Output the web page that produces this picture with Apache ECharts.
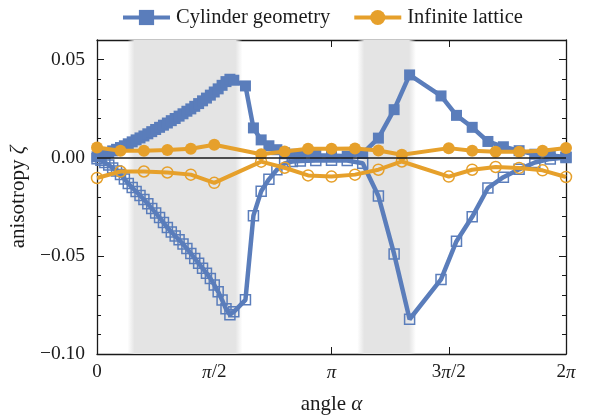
<!DOCTYPE html>
<html>
<head>
<meta charset="utf-8">
<script src="https://cdn.jsdelivr.net/npm/echarts@6/dist/echarts.min.js"></script>
<style>
html, body { margin: 0; padding: 0; background: #fff; }
#chart { width: 592px; height: 420px; }
</style>
</head>
<body>
<div id="chart"></div>
<script>
// angles in units of pi
var cylAngle = [0, 0.0167, 0.0333, 0.05, 0.0667, 0.0833, 0.1, 0.1167, 0.1333, 0.15,
    0.1667, 0.1833, 0.2, 0.2167, 0.2333, 0.25, 0.2667, 0.2833, 0.3, 0.3167,
    0.3333, 0.35, 0.3667, 0.3833, 0.4, 0.4167, 0.4333, 0.45, 0.4667, 0.4833,
    0.5, 0.5167, 0.5333, 0.55, 0.5667, 0.5833,
    0.633, 0.667, 0.7, 0.733, 0.767, 0.8, 0.833, 0.867, 0.933, 1.0,
    1.067, 1.133, 1.2, 1.267, 1.333, 1.467, 1.533, 1.6, 1.667, 1.733,
    1.8, 1.867, 1.933, 2.0];
var cylUpper = [0.0005, 0.0012, 0.0020, 0.0027, 0.0035, 0.0043, 0.0052, 0.0061, 0.0071, 0.0081,
    0.0091, 0.0101, 0.0111, 0.0122, 0.0133, 0.0144, 0.0155, 0.0166, 0.0177, 0.0189,
    0.0200, 0.0212, 0.0224, 0.0237, 0.0249, 0.0262, 0.0276, 0.0290, 0.0304, 0.0319,
    0.0335, 0.0351, 0.0369, 0.0388, 0.0400, 0.0395,
    0.0366, 0.0152, 0.0091, 0.0061, 0.0041, 0.0025, 0.0018, 0.0014, 0.0012, 0.0012,
    0.0008, 0.0022, 0.0100, 0.0245, 0.0422, 0.0315, 0.0216, 0.0155, 0.0083, 0.0056,
    0.0036, 0.0018, 0.0012, 0.0004];
var cylLower = [-0.0005, -0.0013, -0.0024, -0.0037, -0.0052, -0.0068, -0.0085, -0.0108, -0.0131, -0.0152,
    -0.0172, -0.0192, -0.0213, -0.0235, -0.0258, -0.0281, -0.0305, -0.0330, -0.0356, -0.0378,
    -0.0399, -0.0418, -0.0440, -0.0463, -0.0488, -0.0513, -0.0538, -0.0563, -0.0588, -0.0615,
    -0.0648, -0.0683, -0.0725, -0.0770, -0.0800, -0.0785,
    -0.0724, -0.0295, -0.0171, -0.0110, -0.0061, -0.0029, -0.0019, -0.0016, -0.0014, -0.0013,
    -0.0014, -0.0028, -0.0195, -0.0490, -0.0823, -0.0620, -0.0425, -0.0301, -0.0154, -0.0099,
    -0.0059, -0.0024, -0.0006, 0.0001];

var latAngle = [0, 0.1, 0.2, 0.3, 0.4, 0.5, 0.7, 0.8, 0.9, 1.0, 1.1, 1.2, 1.3, 1.5, 1.6, 1.7, 1.8, 1.9, 2.0];
var latUpper = [0.0052, 0.0036, 0.0036, 0.0039, 0.0046, 0.0066, 0.0018, 0.0032, 0.0046, 0.0046,
    0.0047, 0.0037, 0.0015, 0.0049, 0.0036, 0.0030, 0.0030, 0.0036, 0.0050];
var latLower = [-0.0103, -0.0070, -0.0070, -0.0075, -0.0086, -0.0128, -0.0020, -0.0051, -0.0090, -0.0096,
    -0.0086, -0.0061, -0.0019, -0.0096, -0.0061, -0.0047, -0.0052, -0.0064, -0.0098];

var xTickValues = [0, 0.5, 1, 1.5, 2];
var xTickLabels = ['0', '{i|π}/2', '{i|π}', '3{i|π}/2', '2{i|π}'];
// shaded angle ranges (units of pi)
var bands = [[0.13, 0.62], [1.11, 1.36]];

var BLUE = '#5A7DBB';
var ORANGE = '#E6A02B';
var INK = '#1a1a1a';
var FONT = "'Liberation Serif', 'DejaVu Serif', serif";

function zip(xs, ys) {
    var out = [];
    for (var i = 0; i < xs.length; i++) out.push([xs[i], ys[i]]);
    return out;
}

var chart = echarts.init(document.getElementById('chart'));

var gridW = 592 - 94 - 26;
var areas = [];
for (var i = 0; i < bands.length; i++) {
    var f = 7 / ((bands[i][1] - bands[i][0]) * gridW / 2);
    areas.push([{
        xAxis: bands[i][0],
        itemStyle: {
            color: {
                type: 'linear', x: 0, y: 0, x2: 1, y2: 0,
                colorStops: [
                    {offset: 0, color: 'rgba(228,228,228,0)'},
                    {offset: f, color: 'rgba(228,228,228,1)'},
                    {offset: 1 - f, color: 'rgba(228,228,228,1)'},
                    {offset: 1, color: 'rgba(228,228,228,0)'}
                ]
            }
        }
    }, {xAxis: bands[i][1]}]);
}

var rich = {i: {fontStyle: 'italic', fontFamily: FONT, fontSize: 19, color: INK}};
var richName = {i: {fontStyle: 'italic', fontFamily: FONT, fontSize: 21, color: INK}};

function axisCommon(extra) {
    var base = {
        type: 'value',
        axisLine: {show: true, onZero: false, lineStyle: {color: INK, width: 1.3}},
        splitLine: {show: false},
        axisTick: {show: true, inside: true, length: 7, lineStyle: {color: INK, width: 1}}
    };
    for (var k in extra) base[k] = extra[k];
    return base;
}

option = {
    animation: false,
    backgroundColor: '#fff',
    grid: {left: 94, right: 26, top: 40, bottom: 65},
    legend: {
        left: 116,
        top: 2,
        itemWidth: 47,
        itemHeight: 19,
        itemGap: 22,
        lineStyle: {width: 4},
        textStyle: {fontFamily: FONT, fontSize: 20.5, color: INK, padding: [0, 0, 0, 1]},
        data: ['Cylinder geometry', 'Infinite lattice']
    },
    xAxis: [
        axisCommon({
            position: 'bottom', min: 0, max: 2, interval: 0.5,
            axisLabel: {
                margin: 9, fontFamily: FONT, fontSize: 19, color: INK, rich: rich,
                formatter: function (v) {
                    for (var i = 0; i < xTickValues.length; i++) {
                        if (Math.abs(v - xTickValues[i]) < 1e-6) return xTickLabels[i];
                    }
                    return '';
                }
            },
            name: 'angle {i|α}',
            nameLocation: 'middle',
            nameGap: 40,
            nameTextStyle: {fontFamily: FONT, fontSize: 21, color: INK, rich: richName}
        }),
        axisCommon({
            position: 'top', min: 0, max: 2, interval: 0.5,
            axisLabel: {show: false}
        })
    ],
    yAxis: [
        axisCommon({
            position: 'left', min: -0.1, max: 0.06, interval: 0.05,
            minorTick: {show: true, splitNumber: 5, length: 4, lineStyle: {color: INK, width: 1}},
            axisLabel: {
                margin: 12, fontFamily: FONT, fontSize: 19.5, color: INK,
                formatter: function (v) {
                    if (Math.abs(v * 20 - Math.round(v * 20)) > 1e-6) return '';
                    return v.toFixed(2).replace('-', '\u2212');
                }
            },
            name: 'anisotropy {i|ζ}',
            nameLocation: 'middle',
            nameGap: 46,
            nameTextStyle: {fontFamily: FONT, fontSize: 21, color: INK, rich: richName}
        }),
        axisCommon({
            position: 'right', min: -0.1, max: 0.06, interval: 0.05,
            minorTick: {show: true, splitNumber: 5, length: 4, lineStyle: {color: INK, width: 1}},
            axisLabel: {show: false}
        })
    ],
    series: [
        {
            type: 'line', name: 'bands', data: [], z: 1, silent: true,
            markArea: {silent: true, data: areas},
            markLine: {
                silent: true, symbol: 'none', label: {show: false},
                lineStyle: {color: INK, width: 1.5, type: 'solid'},
                data: [{yAxis: 0}]
            }
        },
        {
            type: 'line', name: 'Cylinder geometry', z: 3,
            data: zip(cylAngle, cylUpper),
            symbol: 'rect', symbolSize: 11,
            lineStyle: {color: BLUE, width: 4.5},
            itemStyle: {color: BLUE}
        },
        {
            type: 'line', name: 'Cylinder geometry', z: 3,
            data: zip(cylAngle, cylLower),
            symbol: 'rect', symbolSize: 10,
            lineStyle: {color: BLUE, width: 4.5},
            itemStyle: {color: 'rgba(255,255,255,0)', borderColor: BLUE, borderWidth: 1.5}
        },
        {
            type: 'line', name: 'Infinite lattice', z: 4,
            data: zip(latAngle, latUpper),
            symbol: 'circle', symbolSize: 12,
            lineStyle: {color: ORANGE, width: 4},
            itemStyle: {color: ORANGE}
        },
        {
            type: 'line', name: 'Infinite lattice', z: 4,
            data: zip(latAngle, latLower),
            symbol: 'circle', symbolSize: 11,
            lineStyle: {color: ORANGE, width: 4},
            itemStyle: {color: 'rgba(255,255,255,0)', borderColor: ORANGE, borderWidth: 1.5}
        }
    ]
};
chart.setOption(option);
</script>
</body>
</html>
